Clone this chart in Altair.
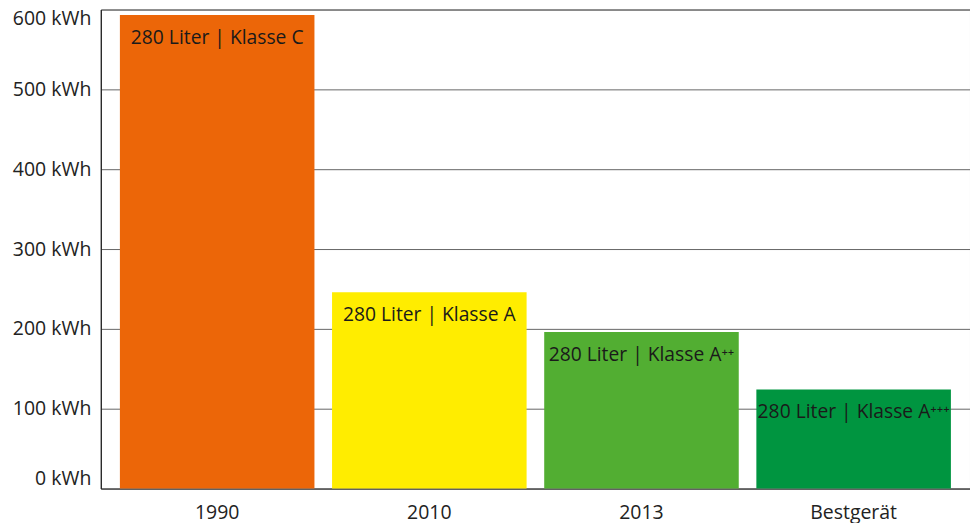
import altair as alt
import pandas as pd

categories = ["1990", "2010", "2013", "Bestgerät"]
values = [593, 246, 196, 124]
labels = ["280 Liter | Klasse C", "280 Liter | Klasse A", "280 Liter | Klasse A⁺⁺", "280 Liter | Klasse A⁺⁺⁺"]
colors = ["#EC6608", "#FFED00", "#52AE32", "#009540"]
y_ticks = [0, 100, 200, 300, 400, 500, 600]

df = pd.DataFrame({"cat": categories, "val": values, "lab": labels})

FONT = "Open Sans"

x_enc = alt.X("cat:N", sort=categories, title=None,
              scale=alt.Scale(paddingInner=0.083, paddingOuter=0.09),
              axis=alt.Axis(labelAngle=0, ticks=False, labelPadding=15, labelFontSize=19.5,
                            labelColor="#222222", labelFont=FONT, domainColor="#555555",
                            domainWidth=1.2))
y_enc = alt.Y("val:Q", title=None,
              scale=alt.Scale(domain=[0, 600], nice=False),
              axis=alt.Axis(values=y_ticks, labelExpr="datum.value + ' kWh'", ticks=False,
                            labelPadding=10, labelFontSize=19.5, labelColor="#222222",
                            labelFont=FONT, labelFlush=True, grid=True, gridColor="#666666",
                            gridWidth=1, domainColor="#222222", domainWidth=1.2))

bars = alt.Chart(df).mark_bar().encode(
    x=x_enc,
    y=y_enc,
    color=alt.Color("cat:N", sort=categories,
                    scale=alt.Scale(domain=categories, range=colors), legend=None),
)

text = alt.Chart(df).mark_text(align="center", baseline="middle", dy=23, fontSize=19.3,
                               font=FONT, color="#1a1a1a").encode(
    x=alt.X("cat:N", sort=categories),
    y=alt.Y("val:Q"),
    text="lab:N",
)

chart = (bars + text).properties(
    width=871, height=480,
    padding={"left": 4, "top": 0, "right": 0, "bottom": 0},
).configure_view(stroke="#666666", strokeWidth=1)

chart.save("out.html", embed_options={"renderer": "svg", "actions": False})
